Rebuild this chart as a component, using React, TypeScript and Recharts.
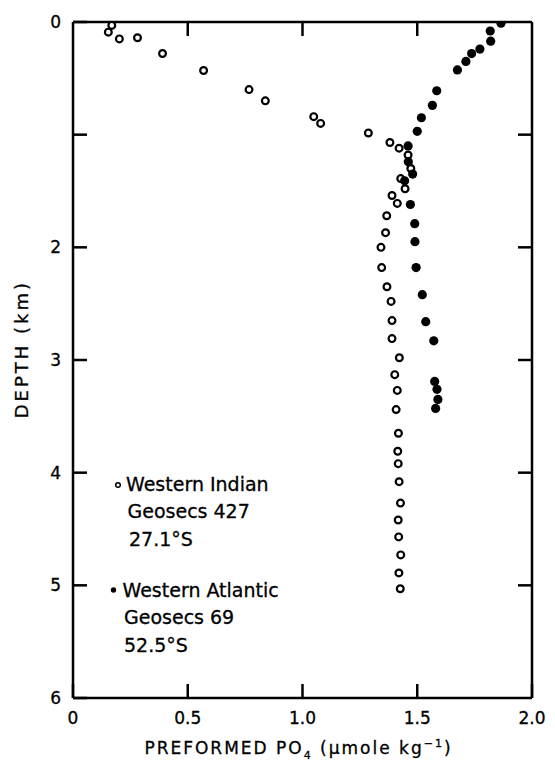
import React from 'react';
import { ScatterChart, Scatter, XAxis, YAxis, Legend } from 'recharts';

// Western Indian, Geosecs 427 (open circles)
const indianDepth = [
  0.03, 0.09, 0.14, 0.15, 0.28, 0.43, 0.6, 0.7, 0.84, 0.9, 0.985, 1.07, 1.12, 1.18,
  1.3, 1.39, 1.48, 1.54, 1.61, 1.72, 1.87, 2.0, 2.18, 2.35, 2.48, 2.65, 2.81, 2.98,
  3.13, 3.27, 3.44, 3.65, 3.81, 3.92, 4.08, 4.27, 4.42, 4.57, 4.73, 4.89, 5.03,
];
const indianPO4 = [
  0.169, 0.154, 0.281, 0.202, 0.39, 0.569, 0.767, 0.838, 1.049, 1.079, 1.287, 1.381, 1.421, 1.46,
  1.472, 1.428, 1.447, 1.39, 1.413, 1.367, 1.362, 1.342, 1.345, 1.368, 1.386, 1.39, 1.39, 1.422,
  1.402, 1.413, 1.408, 1.418, 1.415, 1.417, 1.421, 1.427, 1.417, 1.419, 1.428, 1.42, 1.426,
];

// Western Atlantic, Geosecs 69 (filled circles)
const atlanticDepth = [
  0.01, 0.08, 0.17, 0.24, 0.28, 0.35, 0.425, 0.61, 0.74, 0.85, 0.97, 1.1, 1.24, 1.35,
  1.41, 1.62, 1.79, 1.95, 2.18, 2.42, 2.66, 2.83, 3.19, 3.26, 3.35, 3.43,
];
const atlanticPO4 = [
  1.865, 1.818, 1.82, 1.773, 1.737, 1.712, 1.675, 1.585, 1.566, 1.518, 1.5, 1.46, 1.461, 1.48,
  1.445, 1.47, 1.489, 1.49, 1.495, 1.522, 1.537, 1.572, 1.576, 1.586, 1.59, 1.58,
];

const xTicks = [0, 0.5, 1, 1.5, 2];
const xTopTicks = [0.5, 1, 1.5];
const yTicks = [0, 1, 2, 3, 4, 5, 6];
const yRightTicks = [1, 2, 3, 4, 5];
const yTickHidden = [1];

const indianData = indianDepth.map((d, i) => ({ depth: d, po4: indianPO4[i] }));
const atlanticData = atlanticDepth.map((d, i) => ({ depth: d, po4: atlanticPO4[i] }));

const FONT = '"DejaVu Sans", sans-serif';
const frame = { stroke: '#000', strokeWidth: 2.5 };
const tickText = { fill: '#000', fontSize: 17, fontFamily: FONT, stroke: '#000', strokeWidth: 0.3 };

const OpenDot = (p: any) => (
  <circle cx={p.cx} cy={p.cy} r={3.4} fill="#fff" stroke="#000" strokeWidth={2.2} />
);
const FilledDot = (p: any) => <circle cx={p.cx} cy={p.cy} r={4.6} fill="#000" />;

const XTitle = (props: any) => {
  const { x, y, width } = props.viewBox;
  return (
    <text
      x={x + width / 2 - 4}
      y={y + 56}
      textAnchor="middle"
      fill="#000"
      stroke="#000"
      strokeWidth={0.3}
      style={{ fontFamily: FONT, fontSize: 17, letterSpacing: 2 }}
    >
      PREFORMED PO<tspan fontSize={11} dy={5}>4</tspan>
      <tspan dy={-5}>{' (\u03bcmole kg'}</tspan>
      <tspan fontSize={11} dy={-7}>{'\u22121'}</tspan>
      <tspan dy={7}>)</tspan>
    </text>
  );
};

const YTitle = (props: any) => {
  const { x, y, height } = props.viewBox;
  const cx = x - 50;
  const cy = y + height * 0.484;
  return (
    <text
      x={cx}
      y={cy}
      transform={`rotate(-90 ${cx} ${cy})`}
      textAnchor="middle"
      dominantBaseline="central"
      fill="#000"
      stroke="#000"
      strokeWidth={0.3}
      style={{ fontFamily: FONT, fontSize: 18, letterSpacing: 3 }}
    >
      DEPTH (km)
    </text>
  );
};

const legendText = { fontFamily: FONT, fontSize: 19, fill: '#000', stroke: '#000', strokeWidth: 0.3 };

const LegendBox = () => (
  <svg width={240} height={200}>
    <circle cx={10} cy={15} r={2.3} fill="#fff" stroke="#000" strokeWidth={1.5} />
    <text x={18} y={20.5} style={legendText}>Western Indian</text>
    <text x={19.5} y={48} style={legendText}>Geosecs 427</text>
    <text x={21} y={76} style={legendText}>27.1°S</text>
    <circle cx={5.5} cy={120} r={2.7} fill="#000" />
    <text x={14.5} y={126.5} style={legendText}>Western Atlantic</text>
    <text x={16} y={154} style={legendText}>Geosecs 69</text>
    <text x={16} y={182} style={legendText}>52.5°S</text>
  </svg>
);

export default function App() {
  return (
    <div style={{ position: 'absolute', left: 0, top: 0, background: '#fff' }}>
      <ScatterChart width={555} height={766} margin={{ top: 21, right: 22, bottom: 67, left: 72 }}>
        <XAxis
          xAxisId="bottom"
          type="number"
          dataKey="po4"
          domain={[0, 2]}
          ticks={xTicks}
          interval={0}
          height={1}
          tickSize={-14}
          tickMargin={28}
          axisLine={frame}
          tickLine={frame}
          tick={tickText}
          tickFormatter={(v: number) => (v === 0 ? '0' : v.toFixed(1))}
          label={{ content: XTitle }}
          allowDataOverflow
        />
        <XAxis
          xAxisId="top"
          orientation="top"
          type="number"
          dataKey="po4"
          domain={[0, 2]}
          ticks={xTopTicks}
          interval={0}
          height={1}
          tickSize={-14}
          axisLine={frame}
          tickLine={frame}
          tickFormatter={() => ''}
          allowDataOverflow
        />
        <YAxis
          yAxisId="left"
          type="number"
          dataKey="depth"
          reversed
          domain={[0, 6]}
          ticks={yTicks}
          interval={0}
          width={1}
          tickSize={-14}
          tickMargin={26}
          axisLine={frame}
          tickLine={frame}
          tick={tickText}
          tickFormatter={(v: number) => (yTickHidden.includes(v) ? '' : String(v))}
          label={{ content: YTitle }}
          allowDataOverflow
        />
        <YAxis
          yAxisId="right"
          orientation="right"
          type="number"
          dataKey="depth"
          reversed
          domain={[0, 6]}
          ticks={yRightTicks}
          interval={0}
          width={1}
          tickSize={-14}
          axisLine={frame}
          tickLine={frame}
          tickFormatter={() => ''}
          allowDataOverflow
        />
        <Scatter
          name="Western Indian"
          data={indianData}
          xAxisId="bottom"
          yAxisId="left"
          shape={OpenDot}
          isAnimationActive={false}
        />
        <Scatter
          name="Western Atlantic"
          data={atlanticData}
          xAxisId="bottom"
          yAxisId="left"
          shape={FilledDot}
          isAnimationActive={false}
        />
        <Legend
          layout="horizontal"
          verticalAlign="middle"
          align="center"
          content={LegendBox}
          wrapperStyle={{ left: 108, top: 470, width: 240, height: 200 }}
        />
      </ScatterChart>
    </div>
  );
}
